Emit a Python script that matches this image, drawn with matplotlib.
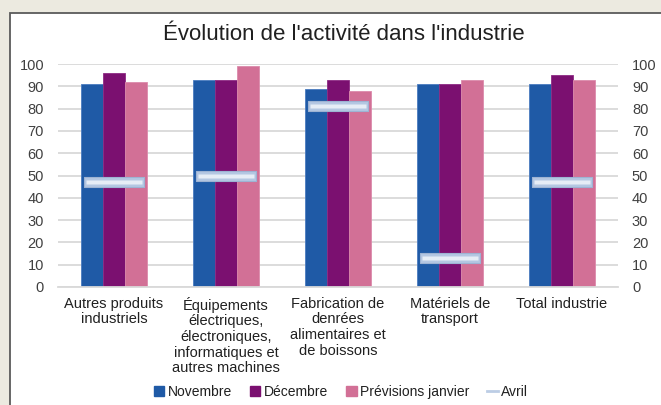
import matplotlib
matplotlib.use("Agg")
from matplotlib import pyplot as plt
from matplotlib.patches import Patch, Rectangle
from matplotlib.lines import Line2D
from matplotlib.path import Path
import numpy as np

categories = [
    "Autres produits\nindustriels",
    "Équipements\nélectriques,\nélectroniques,\ninformatiques et\nautres machines",
    "Fabrication de\ndenrées\nalimentaires et\nde boissons",
    "Matériels de\ntransport",
    "Total industrie",
]
novembre = [91, 93, 89, 91, 91]
decembre = [96, 93, 93, 91, 95]
previsions_janvier = [92, 99, 88, 93, 93]
avril = [47, 50, 81, 13, 47]
y_ticks = [0, 10, 20, 30, 40, 50, 60, 70, 80, 90, 100]

plt.rcParams["font.family"] = ["Liberation Sans", "DejaVu Sans"]
text_color = "#404040"

fig = plt.figure(figsize=(6.61, 4.05), dpi=100, facecolor="#ECEAE0")
# white chart area with dark border
fig.patches.append(
    Rectangle((10 / 661, -0.01), 1.0, 1 - 13 / 405 + 0.01, transform=fig.transFigure,
              facecolor="white", edgecolor="#5A5A5A", linewidth=1.3, zorder=-10)
)

ax = fig.add_axes([58 / 661, 1 - 287 / 405, 560 / 661, 223 / 405])
ax.set_facecolor("none")
ax.set_zorder(2)

x = np.arange(len(categories))
w = 0.194
ax.bar(x - w, novembre, w, color="#1F5AA6", edgecolor="#4A7CC0", linewidth=0.6, zorder=2)
ax.bar(x, decembre, w, color="#7B1070", edgecolor="#8E2A84", linewidth=0.6, zorder=2)
ax.bar(x + w, previsions_janvier, w, color="#D27096", edgecolor="#DC8AAB", linewidth=0.6, zorder=2)

# Avril: wide flat marker, no line
rect = Path([(-3, -0.5), (3, -0.5), (3, 0.5), (-3, 0.5), (-3, -0.5)],
            [Path.MOVETO, Path.LINETO, Path.LINETO, Path.LINETO, Path.CLOSEPOLY])
ax.plot(x, avril, ls="none", marker=rect, markersize=43, mfc="#B4C7E2",
        mec="#9DB3D3", mew=0.8, zorder=3)
rect_hi = Path([(-3, -0.2), (3, -0.2), (3, 0.2), (-3, 0.2), (-3, -0.2)],
               [Path.MOVETO, Path.LINETO, Path.LINETO, Path.LINETO, Path.CLOSEPOLY])
ax.plot(x, avril, ls="none", marker=rect_hi, markersize=41, mfc="#E6EDF6",
        mec="none", zorder=4)

ax.set_xlim(-0.5, len(categories) - 0.5)
ax.set_ylim(0, 100)
ax.set_yticks(y_ticks)
ax.yaxis.grid(True, color="#D9D9D9", linewidth=1.3, zorder=0)
ax.set_axisbelow(True)
for s in ["top", "right", "left"]:
    ax.spines[s].set_visible(False)
ax.spines["bottom"].set_color("#D9D9D9")
ax.spines["bottom"].set_linewidth(1.3)

ax.set_xticks(x)
ax.set_xticklabels(categories, fontsize=10.5, color="#202020", linespacing=1.15)
ax.tick_params(axis="x", length=0, pad=7)
ax.tick_params(axis="y", length=0, pad=10, labelsize=10.5, labelcolor=text_color,
               labelright=True, right=False)

fig.text(0.52, 1 - 34 / 405, "Évolution de l'activité dans l'industrie",
         ha="center", va="center", fontsize=16, color="#202020")

handles = [
    Patch(color="#1F5AA6", label="Novembre"),
    Patch(color="#7B1070", label="Décembre"),
    Patch(color="#D27096", label="Prévisions janvier"),
    Line2D([], [], color="#BCCDE5", lw=2, label="Avril"),
]
fig.legend(handles=handles, loc="center", bbox_to_anchor=(341 / 661, 1 - 392 / 405), ncol=4,
           frameon=False, fontsize=10, handlelength=0.75, handleheight=0.75,
           handletextpad=0.25, columnspacing=1.3, labelcolor="#202020")

fig.savefig("out.png", dpi=100, facecolor=fig.get_facecolor())
